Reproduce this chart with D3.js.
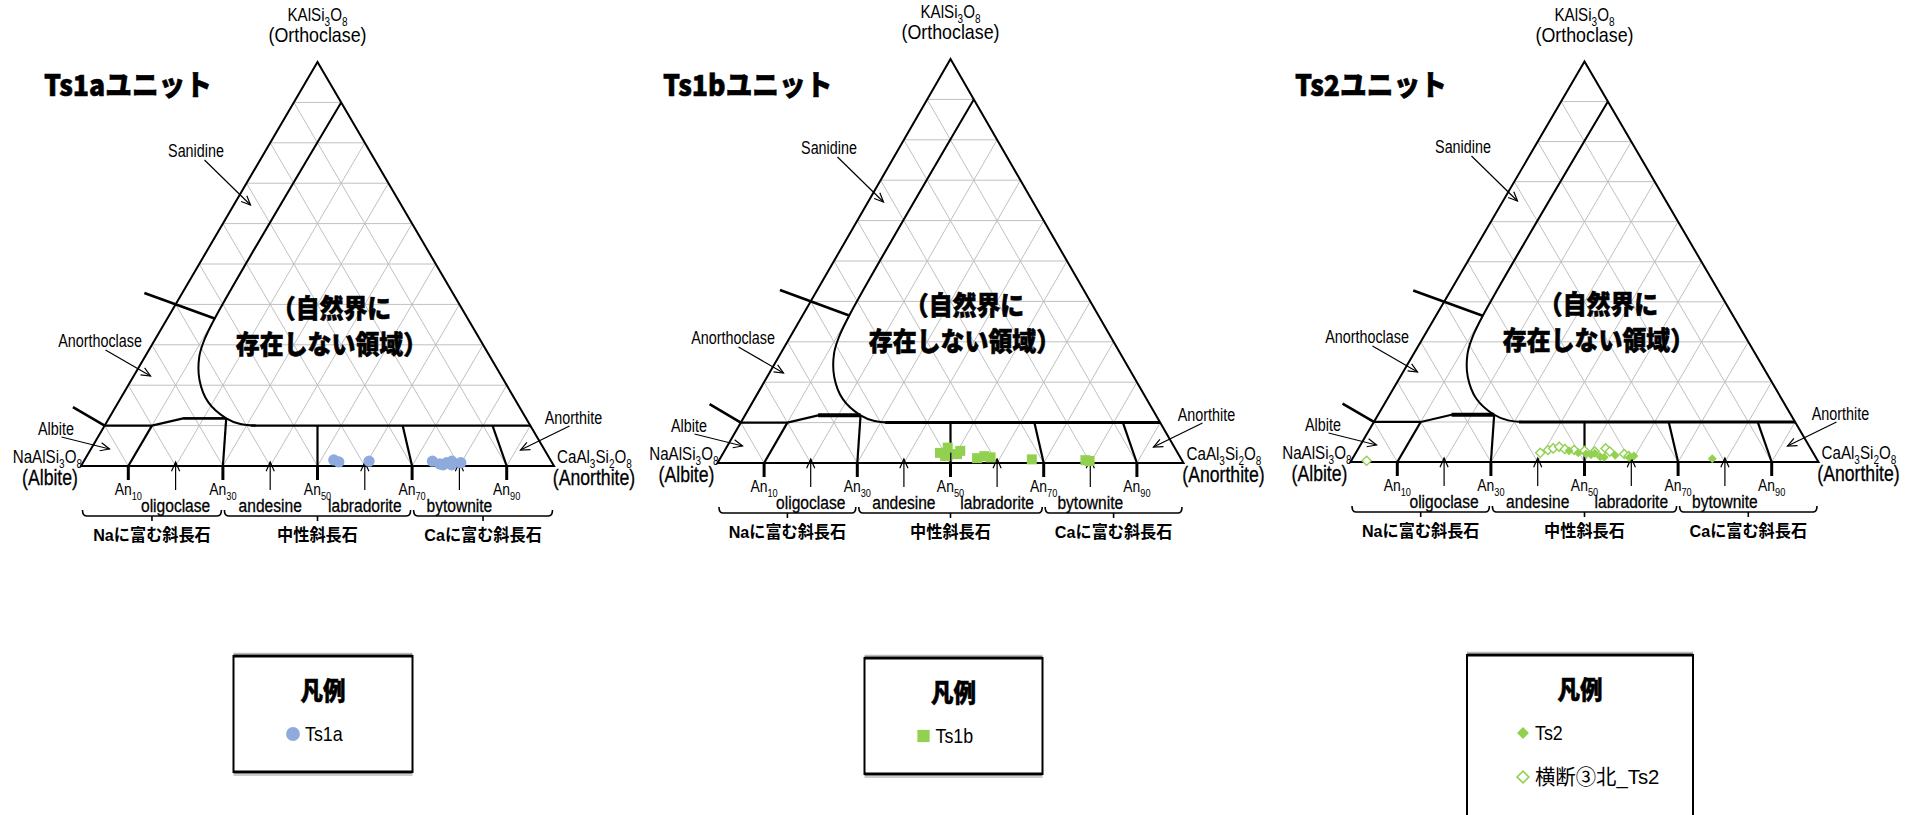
<!DOCTYPE html>
<html>
<head>
<meta charset="utf-8">
<script src="https://cdn.jsdelivr.net/npm/d3@7"></script>
<style>
  body { margin: 0; background: #fff; }
  svg { display: block; }
</style>
</head>
<body>
<script>
// ---- data ----
const unitTitles = ["Ts1aユニット", "Ts1bユニット", "Ts2ユニット"];
const gridSteps = [10, 20, 30, 40, 50, 60, 70, 80, 90];
const anTicks = [10, 30, 50, 70, 90];
const mineralNames = ["oligoclase", "andesine", "labradorite", "bytownite"];
const mineralAn = [20, 40, 60, 80];
const groupNames = ["Naに富む斜長石", "中性斜長石", "Caに富む斜長石"];
const groupFrom = [0, 30, 70];
const groupTo = [30, 70, 100];

// boundary lines, points are [An, Or] in %
const gapCurve = [[10, 90], [10, 37], [10.5, 31], [11.5, 27], [14.4, 21.3], [19, 15.8], [24.8, 11.8], [28.5, 10.4], [32, 10]];
const or10Line = [[31, 10], [90, 10]];
const albiteStub = [[0, 10], [10, 10], [15.7, 11.8], [24.8, 11.8]];
const plagDividers = [
  [[10, 0], [10, 10]],
  [[30, 0], [24.8, 11.8]],
  [[50, 0], [45, 10]],
  [[70, 0], [63, 10]],
  [[90, 0], [82, 10]]
];
const outerTicks = [
  [[-8, 42.8], [10, 36.5]],
  [[-9, 14.6], [0, 10]]
];

// measured feldspar compositions
const ts1aAn = [52.7, 54.0, 60.3, 73.7, 75.6, 76.4, 76.9, 77.8, 78.2, 79.9];
const ts1aOr = [1.5, 1.0, 1.2, 1.2, 0.5, 0.3, 0.8, 1.2, 0.3, 0.8];
const ts1bAn = [46.5, 47.5, 48.0, 50.3, 50.6, 55.1, 56.4, 57.9, 67.0, 78.6, 79.6];
const ts1bOr = [2.5, 3.8, 1.7, 2.2, 3.0, 1.2, 1.7, 1.4, 0.9, 0.7, 0.5];
const ts2An = [45.3, 47.5, 49.3, 50.5, 51.1, 52.7, 53.6, 55.7, 59.0, 59.8, 76.9];
const ts2Or = [2.8, 2.3, 2.0, 1.8, 2.2, 1.3, 1.2, 1.7, 1.2, 1.5, 0.8];
const ts2nAn = [3.3, 39.4, 40.7, 41.6, 42.7, 44.2, 46.3, 48.6, 50.9, 52.8, 54.1, 57.5, 58.7];
const ts2nOr = [0.3, 2.3, 3.0, 3.4, 3.8, 3.2, 3.0, 2.8, 2.6, 3.4, 2.6, 2.0, 1.5];

const orFormula = [["KAlSi", 0], ["3", 1], ["O", 0], ["8", 1]];
const abFormula = [["NaAlSi", 0], ["3", 1], ["O", 0], ["8", 1]];
const anFormula = [["CaAl", 0], ["3", 1], ["Si", 0], ["2", 1], ["O", 0], ["8", 1]];

const blue = '#8faadc';
const green = '#92d050';
const latin = '"Liberation Sans", "Noto Sans CJK JP", sans-serif';
const jp = '"Noto Sans CJK JP", sans-serif';

const svg = d3.select('body').append('svg')
  .attr('width', 1917)
  .attr('height', 815)
  .style('background', '#fff');

// text squeezed horizontally, the original uses a narrow gothic face
function label(g, t, x, y, size, anchor, opts = {}) {
  const sx = opts.sx || 0.82;
  const el = g.append('g').attr('transform', `translate(${x},${y}) scale(${sx},1)`)
    .append('text')
    .attr('font-size', size)
    .attr('font-family', opts.family || latin)
    .attr('font-weight', opts.weight || 'normal')
    .attr('text-anchor', anchor);
  if (opts.heavy) el.attr('stroke', '#000').attr('stroke-width', opts.heavy);
  if (t !== null) el.text(t);
  return el;
}

function chem(g, parts, x, y, size, anchor) {
  const t = label(g, null, x, y, size, anchor);
  let prevSub = false;
  parts.forEach(([s, sub]) => {
    const sp = t.append('tspan').text(s).attr('font-size', sub ? size * 0.66 : size);
    if (sub && !prevSub) sp.attr('dy', size * 0.28);
    if (!sub && prevSub) sp.attr('dy', -size * 0.28);
    prevSub = !!sub;
  });
  return t;
}

function arrow(g, x1, y1, x2, y2) {
  g.append('line')
    .attr('x1', x1).attr('y1', y1).attr('x2', x2).attr('y2', y2)
    .attr('stroke', '#000').attr('stroke-width', 1.2);
  const a = Math.atan2(y2 - y1, x2 - x1), L = 10, s = 0.42;
  g.append('path')
    .attr('d', `M${x2 - L * Math.cos(a - s)},${y2 - L * Math.sin(a - s)}L${x2},${y2}L${x2 - L * Math.cos(a + s)},${y2 - L * Math.sin(a + s)}`)
    .attr('fill', 'none').attr('stroke', '#000').attr('stroke-width', 1.2);
}

const panels = [
  {cx: 317.5, apexY: 62, baseY: 466, hw: 236.5, titleX: 44},
  {cx: 950.5, apexY: 59, baseY: 463, hw: 233, titleX: 663},
  {cx: 1584.5, apexY: 61.5, baseY: 462, hw: 234, titleX: 1295}
];

function drawPanel(p, i, series) {
  const g = svg.append('g');
  const x = d3.scaleLinear().domain([0, 100]).range([p.cx - p.hw, p.cx + p.hw]);
  const y = d3.scaleLinear().domain([0, 100]).range([p.baseY, p.apexY]);
  const px = d => x(d[0] + d[1] / 2);
  const py = d => y(d[1]);
  const line = d3.line().x(px).y(py);

  // grid
  const grid = [];
  gridSteps.forEach(v => {
    grid.push([[0, v], [100 - v, v]]);
    grid.push([[v, 0], [v, 100 - v]]);
    grid.push([[100 - v, 0], [0, 100 - v]]);
  });
  g.append('g').selectAll('path').data(grid).join('path')
    .attr('d', line).attr('stroke', '#c0c0c0').attr('stroke-width', 1).attr('fill', 'none');

  // outline
  g.append('path')
    .attr('d', line([[0, 0], [100, 0], [0, 100], [0, 0]]) + 'Z')
    .attr('fill', 'none').attr('stroke', '#000').attr('stroke-width', 2).attr('stroke-linejoin', 'miter');

  // boundaries
  const bold = (d, w) => g.append('path').attr('d', d).attr('fill', 'none')
    .attr('stroke', '#000').attr('stroke-width', w);
  bold(d3.line().x(px).y(py).curve(d3.curveCatmullRom.alpha(0.5))(gapCurve), 2);
  bold(line(or10Line), i === 0 ? 2.2 : 3);
  bold(line(albiteStub), 2.2);
  bold(line(albiteStub.slice(2)), i === 0 ? 2.2 : 4);
  plagDividers.forEach(d => bold(line(d), 2.2));
  outerTicks.forEach(d => bold(line(d), 2.6));

  // ticks under the base
  anTicks.forEach(a => {
    g.append('line').attr('x1', x(a)).attr('x2', x(a))
      .attr('y1', p.baseY).attr('y2', p.baseY + 14)
      .attr('stroke', '#000').attr('stroke-width', 3);
    chem(g, [["An", 0], [String(a), 1]], x(a), p.baseY + 29, 17, 'middle');
  });

  // mineral names with arrows
  mineralAn.forEach((a, k) => {
    arrow(g, x(a), p.baseY + 24, x(a), p.baseY - 4);
    label(g, mineralNames[k], x(a), p.baseY + 46, 19, 'middle', {heavy: 0.3});
  });

  // braces and groups
  const yb = p.baseY + 50;
  groupNames.forEach((name, k) => {
    const x1 = x(groupFrom[k]) + 1.5, x2 = x(groupTo[k]) - 1.5, xm = (x1 + x2) / 2;
    g.append('path')
      .attr('d', `M${x1},${yb - 6}Q${x1},${yb} ${x1 + 4},${yb}L${x2 - 4},${yb}Q${x2},${yb} ${x2},${yb - 6}M${xm},${yb}L${xm},${yb + 5}`)
      .attr('fill', 'none').attr('stroke', '#000').attr('stroke-width', 1.6);
    label(g, name, xm, p.baseY + 75, 17, 'middle', {weight: 'bold', sx: 0.95});
  });

  // corner labels
  chem(g, orFormula, p.cx, p.apexY - 41, 18.5, 'middle');
  label(g, '(Orthoclase)', p.cx, p.apexY - 20, 21, 'middle', {sx: 0.85});
  chem(g, abFormula, x(0) + 1, p.baseY - 3, 18.5, 'end');
  label(g, '(Albite)', x(0) - 31, p.baseY + 19, 21.5, 'middle', {heavy: 0.3});
  chem(g, anFormula, x(100) + 3, p.baseY - 3, 18.5, 'start');
  label(g, '(Anorthite)', x(100) + 40, p.baseY + 19, 21.5, 'middle', {heavy: 0.3});

  // field labels
  label(g, 'Sanidine', p.cx - 121.5, p.baseY - 309, 17.5, 'middle');
  arrow(g, p.cx - 113, p.baseY - 306, p.cx - 67, p.baseY - 261);
  label(g, 'Anorthoclase', p.cx - 217.5, p.baseY - 119, 17.5, 'middle');
  arrow(g, p.cx - 212, p.baseY - 116, p.cx - 167, p.baseY - 90);
  label(g, 'Albite', p.cx - 261.5, p.baseY - 31, 17.5, 'middle');
  arrow(g, p.cx - 256, p.baseY - 29, p.cx - 208, p.baseY - 17);
  label(g, 'Anorthite', p.cx + 256, p.baseY - 42, 17.5, 'middle');
  arrow(g, p.cx + 252, p.baseY - 40, p.cx + 203, p.baseY - 16);

  // region not found in nature
  const bigOpts = {weight: 900, family: jp, sx: 0.92, heavy: 0.6};
  label(g, '（自然界に', p.cx + 14, p.baseY - 148, 26, 'middle', bigOpts);
  label(g, '存在しない領域）', p.cx + 14, p.baseY - 112, 26, 'middle', bigOpts);

  // title
  label(g, unitTitles[i], p.titleX, 96, 29, 'start', {weight: 900, family: jp, sx: 0.92, heavy: 0.6});

  // points
  series.forEach(s => {
    const pts = s.an.map((a, k) => [a, s.or[k]]);
    g.append('g').selectAll('path').data(pts).join('path')
      .attr('transform', d => `translate(${px(d)},${py(d)})${s.rot ? ' rotate(45)' : ''}`)
      .attr('d', d3.symbol().type(s.type).size(s.size))
      .attr('fill', s.fill).attr('stroke', s.stroke || 'none').attr('stroke-width', 1.4);
  });
}

drawPanel(panels[0], 0, [
  {an: ts1aAn, or: ts1aOr, type: d3.symbolCircle, size: 100, fill: blue}
]);
drawPanel(panels[1], 1, [
  {an: ts1bAn, or: ts1bOr, type: d3.symbolSquare, size: 100, fill: green}
]);
drawPanel(panels[2], 2, [
  {an: ts2nAn, or: ts2nOr, type: d3.symbolSquare, size: 42, fill: '#fff', stroke: green, rot: true},
  {an: ts2An, or: ts2Or, type: d3.symbolSquare, size: 40, fill: green, rot: true}
]);

// ---- legends ----
const legends = [
  {x: 233.5, y: 656, w: 179, h: 116, items: [["Ts1a", d3.symbolCircle, blue, null, false]]},
  {x: 864.5, y: 658, w: 178, h: 116, items: [["Ts1b", d3.symbolSquare, green, null, false]]},
  {x: 1467, y: 655, w: 226, h: 200, items: [["Ts2", d3.symbolSquare, green, null, true], ["横断③北_Ts2", d3.symbolSquare, '#fff', green, true]]}
];
legends.forEach(L => {
  const g = svg.append('g');
  g.append('line').attr('x1', L.x).attr('x2', L.x + L.w).attr('y1', L.y - 2.5).attr('y2', L.y - 2.5)
    .attr('stroke', '#bbb').attr('stroke-width', 1.5);
  g.append('line').attr('x1', L.x).attr('x2', L.x + L.w).attr('y1', L.y + L.h + 3).attr('y2', L.y + L.h + 3)
    .attr('stroke', '#bbb').attr('stroke-width', 1.5);
  g.append('rect').attr('x', L.x).attr('y', L.y).attr('width', L.w).attr('height', L.h)
    .attr('fill', '#fff').attr('stroke', '#000').attr('stroke-width', 2);
  g.append('line').attr('x1', L.x).attr('x2', L.x + L.w).attr('y1', L.y).attr('y2', L.y)
    .attr('stroke', '#000').attr('stroke-width', 3);
  g.append('line').attr('x1', L.x).attr('x2', L.x + L.w).attr('y1', L.y + L.h).attr('y2', L.y + L.h)
    .attr('stroke', '#000').attr('stroke-width', 3);
  label(g, '凡例', L.x + L.w / 2, L.y + 44, 25, 'middle', {weight: 900, family: jp, sx: 0.9, heavy: 0.5});
  L.items.forEach((it, k) => {
    const yy = L.y + 78 + k * 44;
    const mx = L.items.length > 1 ? L.x + 56 : L.x + L.w / 2 - 30;
    g.append('path')
      .attr('transform', `translate(${mx},${yy})${it[4] ? ' rotate(45)' : ''}`)
      .attr('d', d3.symbol().type(it[1]).size(it[4] ? 70 : 150))
      .attr('fill', it[2]).attr('stroke', it[3] || 'none').attr('stroke-width', 1.6);
    const wide = /[^\x00-\x7f]/.test(it[0]);
    label(g, it[0], mx + 12, yy + 7, 21, 'start', {sx: wide ? 0.97 : 0.85});
  });
});
</script>
</body>
</html>
